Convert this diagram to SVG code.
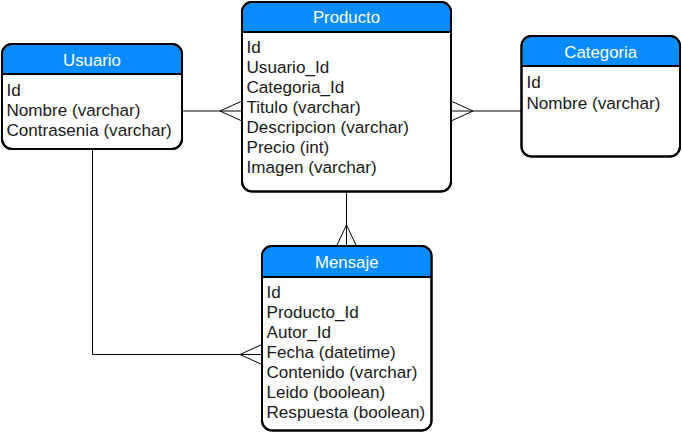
<svg xmlns="http://www.w3.org/2000/svg" width="682" height="432" viewBox="0 0 682 432">
<style>
.hdr{fill:#078cff;stroke:none}
.box{fill:#ffffff;stroke:#000000;stroke-width:2}
.sep{stroke:#000000;stroke-width:2}
.ht{font-family:"Liberation Sans",Arial,sans-serif;font-size:16.8px;fill:#ffffff;text-anchor:middle}
.bt{font-family:"Liberation Sans",Arial,sans-serif;font-size:17.1px;fill:#1a1a1a}
.ln{fill:none;stroke:#000000;stroke-width:1}
</style>
<rect width="682" height="432" fill="#ffffff"/>
<g id="connectors">
  <path class="ln" d="M182 111 H242 M220 111 L242 101 M220 111 L242 121"/>
  <path class="ln" d="M451 111 H521 M473 111 L451 101 M473 111 L451 121"/>
  <path class="ln" d="M346.5 192 V246 M346.5 225 L336.5 246 M346.5 225 L356.5 246"/>
  <path class="ln" d="M92.5 149 V354.5 H262 M240 354.5 L262 344.5 M240 354.5 L262 364.5"/>
</g>
<g id="usuario">
  <rect class="box" x="2" y="44" width="180" height="105" rx="10"/>
  <path class="hdr" d="M3 74 V54 A9 9 0 0 1 12 45 H172 A9 9 0 0 1 181 54 V74 Z"/>
  <rect x="2" y="44" width="180" height="105" rx="10" fill="none" stroke="#000" stroke-width="2"/>
  <line class="sep" x1="2" y1="74" x2="182" y2="74"/>
  <text class="ht" x="92" y="66">Usuario</text>
  <text class="bt" x="6.5" y="96">Id</text>
  <text class="bt" x="6.5" y="116">Nombre (varchar)</text>
  <text class="bt" x="6.5" y="136">Contrasenia (varchar)</text>
</g>
<g id="producto">
  <rect class="box" x="242" y="2" width="209" height="189.5" rx="10"/>
  <path class="hdr" d="M243 32 V12 A9 9 0 0 1 252 3 H441 A9 9 0 0 1 450 12 V32 Z"/>
  <rect x="242" y="2" width="209" height="189.5" rx="10" fill="none" stroke="#000" stroke-width="2"/>
  <line class="sep" x1="242" y1="32" x2="451" y2="32"/>
  <text class="ht" x="346.5" y="23">Producto</text>
  <text class="bt" x="246.5" y="52.5">Id</text>
  <text class="bt" x="246.5" y="72.5">Usuario_Id</text>
  <text class="bt" x="246.5" y="92.5">Categoria_Id</text>
  <text class="bt" x="246.5" y="112.5">Titulo (varchar)</text>
  <text class="bt" x="246.5" y="132.5">Descripcion (varchar)</text>
  <text class="bt" x="246.5" y="152.5">Precio (int)</text>
  <text class="bt" x="246.5" y="172.5">Imagen (varchar)</text>
</g>
<g id="categoria">
  <rect class="box" x="521.5" y="36" width="158.5" height="120.5" rx="10"/>
  <path class="hdr" d="M522.5 66 V46 A9 9 0 0 1 531.5 37 H670 A9 9 0 0 1 679 46 V66 Z"/>
  <rect x="521.5" y="36" width="158.5" height="120.5" rx="10" fill="none" stroke="#000" stroke-width="2"/>
  <line class="sep" x1="521.5" y1="66" x2="680" y2="66"/>
  <text class="ht" x="600.75" y="57.5">Categoria</text>
  <text class="bt" x="526.5" y="88">Id</text>
  <text class="bt" x="526.5" y="108.5">Nombre (varchar)</text>
</g>
<g id="mensaje">
  <rect class="box" x="262" y="246" width="169.5" height="184.5" rx="10"/>
  <path class="hdr" d="M263 277 V256 A9 9 0 0 1 272 247 H421.5 A9 9 0 0 1 430.5 256 V277 Z"/>
  <rect x="262" y="246" width="169.5" height="184.5" rx="10" fill="none" stroke="#000" stroke-width="2"/>
  <line class="sep" x1="262" y1="277" x2="431.5" y2="277"/>
  <text class="ht" x="346.75" y="267.5">Mensaje</text>
  <text class="bt" x="266.5" y="297.5">Id</text>
  <text class="bt" x="266.5" y="317.5">Producto_Id</text>
  <text class="bt" x="266.5" y="337.5">Autor_Id</text>
  <text class="bt" x="266.5" y="357.5">Fecha (datetime)</text>
  <text class="bt" x="266.5" y="377.5">Contenido (varchar)</text>
  <text class="bt" x="266.5" y="397.5">Leido (boolean)</text>
  <text class="bt" x="266.5" y="417.5">Respuesta (boolean)</text>
</g>
</svg>
